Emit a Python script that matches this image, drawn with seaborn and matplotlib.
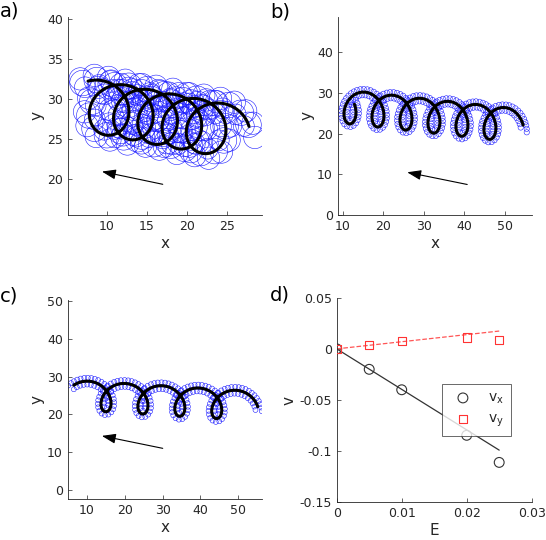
import numpy as np
import seaborn as sns
import matplotlib
matplotlib.use("Agg")
import matplotlib.pyplot as plt
from matplotlib.patches import Circle
from matplotlib.collections import PatchCollection

# panels a-c: path read off the picture as loop parameters
# (first loop centre x, mid height, loop spacing, loop half width / half height,
#  drift of the guiding centre, phase range of the path)
loop_x0 = [10.3, 11.8, 15.1]
loop_mid = [28.77, 26.5, 24.6]
loop_gap = [3.03, 6.9, 9.73]
loop_rx = [3.2, 3.0, 3.4]
loop_ry = [3.32, 4.1, 3.9]
drift_slope = [-0.19, -0.11, -0.062]
phase_start = [-3.45, -1.7, -3.93]
phase_end = [29.7, 36.15, 23.65]

# blue circles around the path: offset of each ring, circle radius, spacing
swarm_offset = [[-0.6, 0.0, 0.6], [-0.75, 0.75], [-0.9, 0.9]]
swarm_radius = [[1.3, 1.6, 1.4], [0.65, 0.65], [0.65, 0.65]]
swarm_gap = [1.8, 0.85, 0.95]

arrow_tail = [(17.0, 19.3), (40.7, 7.5), (30.05, 11.0)]
arrow_head = [(9.4, 20.9), (25.9, 10.5), (14.0, 14.3)]

xlims = [(5.16, 29.4), (8.77, 56.6), (5.0, 56.3)]
ylims = [(15.45, 40.3), (0, 48.7), (-2.5, 50.3)]
xticks = [[10, 15, 20, 25], [10, 20, 30, 40, 50], [10, 20, 30, 40, 50]]
yticks = [[20, 25, 30, 35, 40], [0, 10, 20, 30, 40], [0, 10, 20, 30, 40, 50]]

# panel d
E = [0, 0.005, 0.01, 0.02, 0.025]
vx = [0, -0.020, -0.040, -0.0845, -0.111]
vy = [0, 0.0034, 0.0073, 0.011, 0.0083]
fit_E = [0, 0.025]
fit_vx = [0, -0.099]
fit_vy = [0, 0.0174]
d_xticks = [0, 0.01, 0.02, 0.03]
d_xlabels = ['0', '0.01', '0.02', '0.03']
d_yticks = [0.05, 0, -0.05, -0.1, -0.15]
d_ylabels = ['0.05', '0', '-0.05', '-0.1', '-0.15']

sns.set_theme(style='ticks')
plt.rcParams['font.family'] = ['DejaVu Sans']
plt.rcParams.update({
    'xtick.direction': 'in', 'ytick.direction': 'in',
    'xtick.major.size': 3, 'ytick.major.size': 3,
    'xtick.major.width': 0.5, 'ytick.major.width': 0.5,
    'axes.linewidth': 0.6, 'axes.edgecolor': '#262626',
    'xtick.color': '#262626', 'ytick.color': '#262626',
    'xtick.labelsize': 9, 'ytick.labelsize': 9,
    'axes.labelsize': 11, 'axes.labelcolor': '#262626',
})

GREY = '#262626'


def path(i, offset=0.0, step=0.01, pad=(0.0, 0.0)):
    th = np.arange(phase_start[i] - pad[0], phase_end[i] + pad[1], step)
    a = loop_gap[i] / (2 * np.pi)
    x = loop_x0[i] + a * th - (loop_rx[i] + offset) * np.sin(th)
    y = loop_mid[i] + drift_slope[i] * a * th - (loop_ry[i] + offset) * np.cos(th)
    return x, y


def every(x, y, gap):
    # pick points spaced roughly 'gap' apart along the curve
    s = np.concatenate([[0], np.cumsum(np.hypot(np.diff(x), np.diff(y)))])
    idx = np.searchsorted(s, np.arange(0, s[-1], gap))
    return x[idx], y[idx]


fig = plt.figure(figsize=(5.46, 5.40), dpi=100)
boxes = [
    [0.1245, 0.6019, 0.3553, 0.3667],
    [0.6185, 0.6019, 0.3553, 0.3667],
    [0.1240, 0.0754, 0.3564, 0.3690],
]

for i, box in enumerate(boxes):
    ax = fig.add_axes(box)
    circles = []
    for off, r in zip(swarm_offset[i], swarm_radius[i]):
        sx, sy = every(*path(i, off, pad=(0.2, 0.4)), swarm_gap[i])
        circles += [Circle((cx, cy), r) for cx, cy in zip(sx, sy)]
    ax.add_collection(PatchCollection(circles, facecolor='none',
                                      edgecolor='#1a1aff', linewidth=0.4))
    px, py = path(i)
    sns.lineplot(x=px, y=py, sort=False, color='black', lw=2.2, ax=ax,
                 estimator=None)
    ax.annotate('', xy=arrow_head[i], xytext=arrow_tail[i],
                arrowprops=dict(arrowstyle='-|>,head_length=0.7,head_width=0.25',
                                color='black', lw=0.8, shrinkA=0, shrinkB=0))
    ax.set_xlim(xlims[i])
    ax.set_ylim(ylims[i])
    ax.set_xticks(xticks[i])
    ax.set_yticks(yticks[i])
    ax.set_xlabel('x', labelpad=2)
    ax.set_ylabel('y', labelpad=2)
    sns.despine(ax=ax)

# panel d
ax = fig.add_axes([0.6167, 0.0698, 0.3571, 0.3789])
sns.lineplot(x=fit_E, y=fit_vx, color='#333333', lw=0.9, ax=ax)
sns.lineplot(x=fit_E, y=fit_vy, color='#ff5555', lw=0.9, ls='--', ax=ax)
sns.scatterplot(x=E, y=vx, marker='o', s=50, facecolor='none',
                edgecolor='#333333', linewidth=0.8, label=r'$\mathregular{v_x}$',
                ax=ax, zorder=3)
sns.scatterplot(x=E, y=vy, marker='s', s=35, facecolor='none',
                edgecolor='#ff3333', linewidth=0.8, label=r'$\mathregular{v_y}$',
                ax=ax, zorder=3)
ax.set_xlim(0, 0.03)
ax.set_ylim(-0.15, 0.05)
ax.set_xticks(d_xticks)
ax.set_xticklabels(d_xlabels)
ax.set_yticks(d_yticks)
ax.set_yticklabels(d_ylabels)
ax.set_xlabel('E', labelpad=2)
ax.set_ylabel('v', labelpad=2)
sns.despine(ax=ax)
leg = ax.legend(loc='upper right', bbox_to_anchor=(0.928, 0.614), fontsize=10,
                frameon=True, fancybox=False, edgecolor=GREY,
                handletextpad=0.8, borderpad=0.5, labelspacing=0.4)
leg.get_frame().set_linewidth(0.6)

for txt, xy in zip(['a)', 'b)', 'c)', 'd)'],
                   [(0.0, 0.997), (0.4945, 0.995), (0.0, 0.470), (0.4945, 0.472)]):
    fig.text(xy[0], xy[1], txt, fontsize=14, va='top', ha='left', color='black')

fig.savefig('out.png', dpi=100)
